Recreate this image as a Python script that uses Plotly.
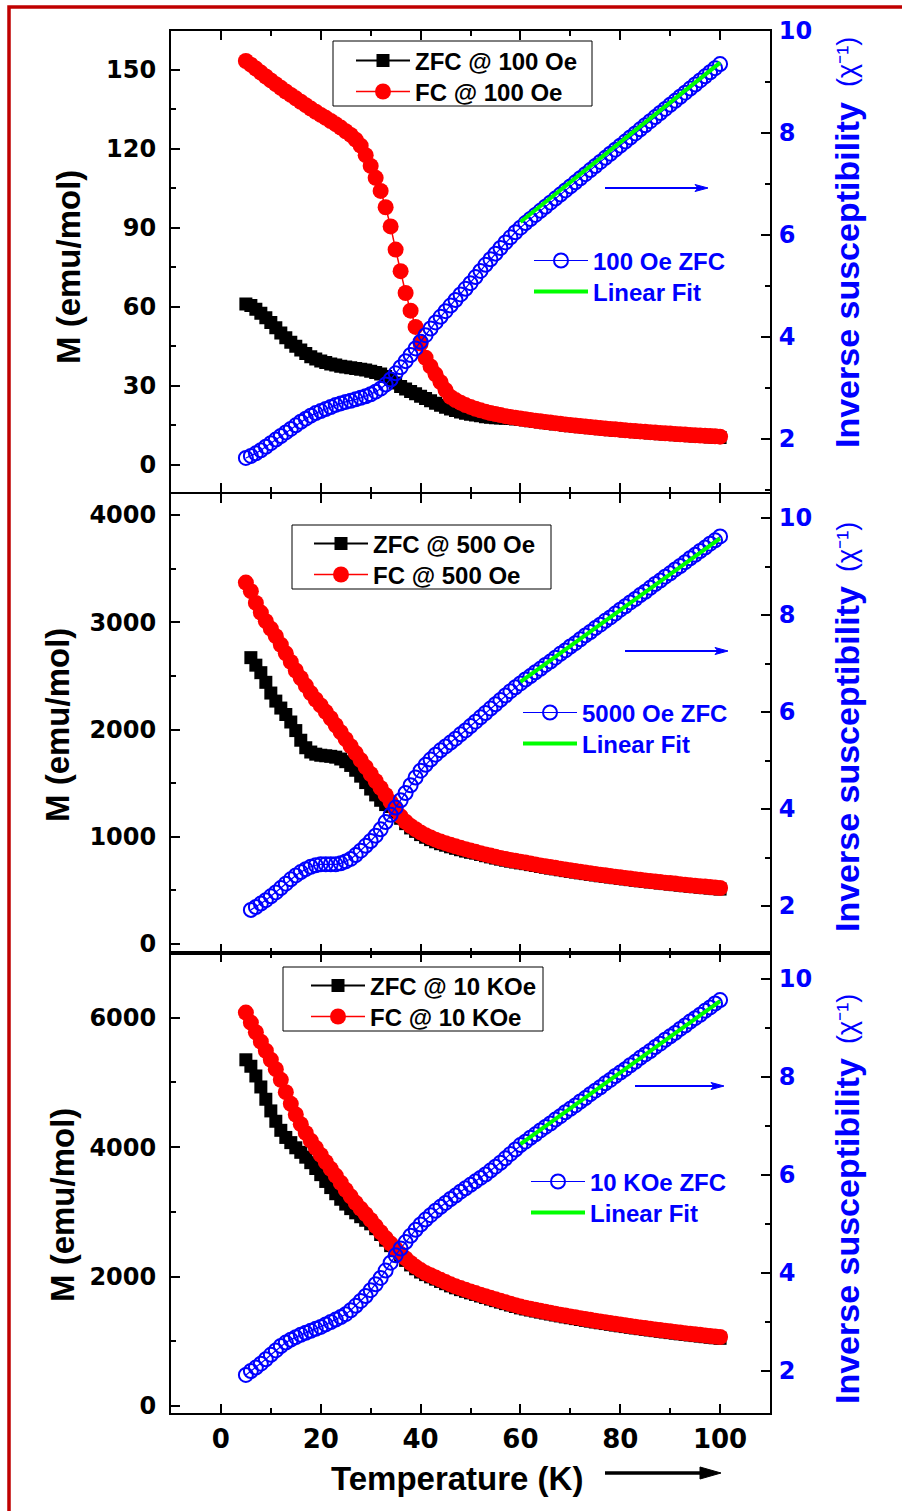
import plotly.graph_objects as go

W, H = 902, 1511
FONT = "Liberation Sans, Arial, Helvetica, sans-serif"
TICKFONT = "DejaVu Sans, Liberation Sans, sans-serif"
BLUE = "#0000FF"
RED = "#FF0000"
GREEN = "#00FF00"

# ---------------- data ----------------
T_all = list(range(5, 101))      # 5 ... 100 K
T_from6 = list(range(6, 101))    # 6 ... 100 K
fit_T = [60, 100]

x_ticks = [0, 20, 40, 60, 80, 100]
right_ticks = [2, 4, 6, 8, 10]

# Panel 1 : 100 Oe
zfc_100 = [61.0, 60.5, 59.0, 57.5, 55.8, 54.0, 52.0, 50.0, 48.2, 46.5,
           45.0, 43.5, 42.2, 41.0, 40.1, 39.4, 38.8, 38.2, 37.8, 37.4,
           37.1, 36.8, 36.5, 36.2, 35.9, 35.5, 35.0, 34.4, 33.5, 32.3,
           31.0, 29.7, 28.7, 27.8, 26.9, 26.0, 25.1, 24.2, 23.3, 22.5,
           21.8, 21.1, 20.5, 20.0, 19.5, 19.1, 18.8, 18.5, 18.2, 18.0,
           17.8, 17.7, 17.6, 17.5, 17.35, 17.2, 16.92, 16.65, 16.39, 16.13,
           15.88, 15.64, 15.41, 15.18, 14.96, 14.75, 14.54, 14.34, 14.14, 13.95,
           13.77, 13.59, 13.41, 13.24, 13.07, 12.90, 12.74, 12.59, 12.43, 12.29,
           12.14, 12.00, 11.86, 11.72, 11.59, 11.46, 11.33, 11.21, 11.09, 10.97,
           10.85, 10.74, 10.62, 10.51, 10.41, 10.30]
fc_100 = [153.4, 152.0, 150.5, 149.0, 147.5, 146.0, 144.6, 143.2, 141.8, 140.5,
          139.2, 137.9, 136.6, 135.3, 134.1, 132.9, 131.8, 130.6, 129.4, 128.1,
          126.7, 125.3, 123.5, 121.2, 117.6, 113.5, 109.0, 104.0, 97.8, 90.5,
          81.7, 73.5, 65.2, 58.5, 52.3, 46.0, 40.6, 37.3, 34.3, 31.3,
          28.3, 25.7, 24.5, 23.5, 22.6, 21.9, 21.2, 20.6, 20.1, 19.6,
          19.2, 18.8, 18.4, 18.1, 17.8, 17.5, 17.22, 16.95, 16.69, 16.43,
          16.18, 15.94, 15.71, 15.48, 15.26, 15.05, 14.84, 14.64, 14.44, 14.25,
          14.07, 13.89, 13.71, 13.54, 13.37, 13.20, 13.04, 12.89, 12.73, 12.59,
          12.44, 12.30, 12.16, 12.02, 11.89, 11.76, 11.63, 11.51, 11.39, 11.27,
          11.15, 11.04, 10.92, 10.81, 10.71, 10.60]
chi_100 = [1.62, 1.66, 1.71, 1.77, 1.84, 1.91, 1.98, 2.05, 2.12, 2.19,
           2.26, 2.33, 2.39, 2.45, 2.50, 2.54, 2.58, 2.62, 2.66, 2.69,
           2.72, 2.74, 2.77, 2.80, 2.83, 2.87, 2.92, 2.98, 3.06, 3.16,
           3.28, 3.40, 3.52, 3.64, 3.77, 3.90, 4.03, 4.16, 4.28, 4.39,
           4.50, 4.61, 4.72, 4.83, 4.94, 5.05, 5.17, 5.29, 5.41, 5.52,
           5.63, 5.74, 5.85, 5.95, 6.05, 6.14, 6.23, 6.31, 6.39, 6.47,
           6.55, 6.63, 6.71, 6.79, 6.87, 6.95, 7.03, 7.11, 7.19, 7.27,
           7.35, 7.43, 7.51, 7.59, 7.67, 7.75, 7.83, 7.91, 7.99, 8.07,
           8.15, 8.23, 8.31, 8.39, 8.47, 8.55, 8.63, 8.71, 8.79, 8.87,
           8.95, 9.03, 9.11, 9.19, 9.27, 9.35]
fit_100 = [6.25, 9.38]

# Panel 2 : 500 Oe
zfc_500 = [2670, 2600, 2530, 2440, 2340, 2265, 2200, 2140, 2070,
           1990, 1900, 1830, 1790, 1770, 1760, 1755, 1750, 1742, 1725,
           1700, 1665, 1620, 1565, 1505, 1445, 1390, 1340, 1300, 1282,
           1230, 1172, 1122, 1082, 1050, 1020, 995, 973, 953, 935,
           921, 906, 892, 879, 866, 855, 847, 835, 823, 812,
           801, 791, 781, 772, 764, 756, 749, 740, 732, 723,
           715, 707, 700, 692, 684, 677, 670, 663, 656, 649,
           643, 636, 630, 624, 618, 612, 606, 600, 594, 589,
           583, 578, 573, 568, 563, 558, 553, 548, 543, 538,
           534, 529, 525, 521, 516, 512]
fc_500 = [3370, 3290, 3180, 3090, 3010, 2940, 2870, 2790, 2710, 2630,
          2550, 2480, 2410, 2340, 2280, 2225, 2165, 2105, 2040, 1975,
          1910, 1845, 1780, 1715, 1650, 1585, 1520, 1455, 1390, 1325,
          1255, 1190, 1140, 1100, 1070, 1040, 1015, 993, 973, 955,
          940, 925, 911, 897, 884, 871, 859, 847, 835, 824,
          813, 803, 793, 784, 776, 768, 759, 750, 742, 733,
          725, 717, 710, 702, 694, 687, 680, 673, 666, 659,
          653, 646, 640, 634, 628, 622, 616, 610, 604, 599,
          593, 588, 583, 578, 572, 568, 563, 558, 553, 548,
          544, 539, 535, 531, 526, 522]
chi_500 = [1.92, 1.98, 2.05, 2.12, 2.20, 2.28, 2.37, 2.46, 2.55,
           2.63, 2.70, 2.76, 2.81, 2.84, 2.86, 2.86, 2.86, 2.86, 2.88,
           2.92, 2.97, 3.05, 3.14, 3.24, 3.34, 3.45, 3.58, 3.73, 3.88,
           4.03, 4.18, 4.33, 4.49, 4.65, 4.79, 4.91, 5.02, 5.12, 5.21,
           5.29, 5.37, 5.45, 5.54, 5.62, 5.71, 5.80, 5.89, 5.98, 6.07,
           6.16, 6.25, 6.34, 6.43, 6.51, 6.59, 6.67, 6.74, 6.82, 6.89,
           6.97, 7.04, 7.12, 7.20, 7.27, 7.35, 7.42, 7.50, 7.58, 7.65,
           7.73, 7.80, 7.88, 7.95, 8.03, 8.11, 8.18, 8.26, 8.33, 8.41,
           8.48, 8.56, 8.64, 8.71, 8.79, 8.86, 8.94, 9.01, 9.09, 9.17,
           9.24, 9.32, 9.39, 9.47, 9.54, 9.62]
fit_500 = [6.62, 9.58]

# Panel 3 : 10 KOe
zfc_10k = [5350, 5250, 5100, 4930, 4740, 4560, 4400, 4260, 4150, 4070,
           3990, 3920, 3845, 3760, 3670, 3575, 3470, 3375, 3280, 3195,
           3120, 3050, 2985, 2925, 2870, 2815, 2740, 2650, 2562, 2478,
           2400, 2320, 2250, 2180, 2120, 2070, 2030, 1995, 1960, 1925,
           1890, 1856, 1826, 1798, 1772, 1748, 1724, 1700, 1676, 1652,
           1628, 1605, 1582, 1560, 1538, 1516, 1499, 1483, 1467, 1451,
           1436, 1421, 1406, 1392, 1377, 1364, 1350, 1337, 1323, 1311,
           1298, 1286, 1274, 1262, 1250, 1239, 1227, 1216, 1205, 1195,
           1184, 1174, 1164, 1154, 1144, 1134, 1125, 1115, 1106, 1097,
           1088, 1080, 1071, 1062, 1054, 1046]
fc_10k = [6080, 5925, 5775, 5630, 5490, 5350, 5205, 5040, 4850, 4670,
          4505, 4355, 4220, 4100, 3990, 3880, 3770, 3665, 3560, 3450,
          3340, 3240, 3140, 3050, 2965, 2875, 2780, 2685, 2595, 2510,
          2430, 2350, 2280, 2210, 2150, 2100, 2055, 2020, 1985, 1950,
          1915, 1880, 1850, 1822, 1795, 1770, 1745, 1720, 1696, 1672,
          1648, 1625, 1602, 1580, 1558, 1536, 1519, 1503, 1487, 1471,
          1456, 1441, 1426, 1412, 1397, 1384, 1370, 1357, 1343, 1331,
          1318, 1306, 1294, 1282, 1270, 1259, 1247, 1236, 1225, 1215,
          1204, 1194, 1184, 1174, 1164, 1154, 1145, 1135, 1126, 1117,
          1108, 1100, 1091, 1083, 1074, 1066]
chi_10k = [1.92, 2.00, 2.07, 2.15, 2.24, 2.33, 2.42, 2.51, 2.58, 2.64,
           2.69, 2.74, 2.78, 2.82, 2.86, 2.90, 2.95, 3.00, 3.05, 3.10,
           3.16, 3.24, 3.33, 3.43, 3.53, 3.65, 3.77, 3.90, 4.05, 4.21,
           4.36, 4.50, 4.63, 4.76, 4.88, 4.99, 5.09, 5.18, 5.27, 5.35,
           5.43, 5.51, 5.58, 5.66, 5.73, 5.80, 5.87, 5.94, 6.01, 6.09,
           6.17, 6.25, 6.34, 6.43, 6.52, 6.61, 6.68, 6.76, 6.83, 6.91,
           6.98, 7.05, 7.13, 7.20, 7.28, 7.35, 7.42, 7.50, 7.57, 7.65,
           7.72, 7.79, 7.87, 7.94, 8.02, 8.09, 8.16, 8.24, 8.31, 8.39,
           8.46, 8.53, 8.61, 8.68, 8.76, 8.83, 8.90, 8.98, 9.05, 9.13,
           9.20, 9.27, 9.35, 9.42, 9.50, 9.57]
fit_10k = [6.63, 9.55]

panels = [
    dict(zfc_T=T_all, zfc=zfc_100, fc_T=T_all, fc=fc_100, chi_T=T_all, chi=chi_100, fit=fit_100,
         zfc_name="ZFC @ 100 Oe", fc_name="FC @ 100 Oe", chi_name="100 Oe ZFC",
         left_range=[-10.25, 164.8], left_dtick=30, left_minor=15,
         right_range=[0.961, 10.0], top=31, bottom=491.5),
    dict(zfc_T=T_from6, zfc=zfc_500, fc_T=T_all, fc=fc_500, chi_T=T_from6, chi=chi_500, fit=fit_500,
         zfc_name="ZFC @ 500 Oe", fc_name="FC @ 500 Oe", chi_name="5000 Oe ZFC",
         left_range=[-84, 4196], left_dtick=1000, left_minor=500,
         right_range=[1.031, 10.495], top=494, bottom=953),
    dict(zfc_T=T_all, zfc=zfc_10k, fc_T=T_all, fc=fc_10k, chi_T=T_all, chi=chi_10k, fit=fit_10k,
         zfc_name="ZFC @ 10 KOe", fc_name="FC @ 10 KOe", chi_name="10 KOe ZFC",
         left_range=[-108, 7000], left_dtick=2000, left_minor=1000,
         right_range=[1.143, 10.53], top=953, bottom=1413),
]

# ---------------- layout helpers (pixel -> paper) ----------------
def PX(p):
    return p / W

def PY(p):
    return 1 - p / H

X_DOM = [PX(171), PX(770)]
LEG_OFF = 22.6   # legend top -> row centre (px)

# legend rows: (left x, row centre y) for zfc, fc, chi, fit
legend_rows = [[(351, 61), (351, 92), (529, 261), (529, 292)],
               [(309, 544), (309, 575), (518, 713), (518, 744)],
               [(306, 986), (306, 1017), (526, 1182), (526, 1213)]]
legend_boxes = [(333, 41, 592, 106), (292, 525, 551, 589), (283, 967, 543, 1031)]
blue_arrows = [(605, 708, 188), (625, 728, 651), (635, 724, 1086)]
left_title_pos = [(68, 267), (57, 725), (62, 1205)]
# right title: (x, centre of bold part, centre of "(χ⁻¹)" part)
right_title_pos = [(847, 275, 62), (847, 759, 547), (847, 1231, 1019)]

fig = go.Figure()
layout = dict(
    width=W, height=H,
    margin=dict(l=0, r=0, t=0, b=0, autoexpand=False),
    paper_bgcolor="white", plot_bgcolor="white",
    font=dict(family=FONT, color="black"),
    showlegend=True,
)

axis_common = dict(showgrid=False, zeroline=False, showline=True, linecolor="black",
                   linewidth=2, ticks="inside", ticklen=9, tickwidth=2, tickcolor="black")

annotations = []
shapes = []
leg_idx = 0

def new_legend(x, yc, color):
    global leg_idx
    leg_idx += 1
    key = "legend" if leg_idx == 1 else f"legend{leg_idx}"
    layout[key] = dict(x=PX(x), y=PY(yc - LEG_OFF), xanchor="left", yanchor="top",
                       bgcolor="rgba(0,0,0,0)", borderwidth=0, itemwidth=54,
                       tracegroupgap=0,
                       font=dict(family=FONT, size=24, color=color, weight="bold"))
    return key

for i, p in enumerate(panels):
    n = i + 1
    xname = "x" if n == 1 else f"x{n}"
    yl = "y" if n == 1 else f"y{2 * n - 1}"
    yr = f"y{2 * n}"
    rows = legend_rows[i]

    fig.add_trace(go.Scatter(
        x=p["zfc_T"], y=p["zfc"], name=p["zfc_name"], mode="lines+markers",
        xaxis=xname, yaxis=yl, legend=new_legend(*rows[0], "black"),
        line=dict(color="black", width=2),
        marker=dict(symbol="square", size=13, color="black", line=dict(width=0))))
    fig.add_trace(go.Scatter(
        x=p["fc_T"], y=p["fc"], name=p["fc_name"], mode="lines+markers",
        xaxis=xname, yaxis=yl, legend=new_legend(*rows[1], "black"),
        line=dict(color=RED, width=1.5),
        marker=dict(symbol="circle", size=16, color=RED, line=dict(width=0))))
    fig.add_trace(go.Scatter(
        x=p["chi_T"], y=p["chi"], name=p["chi_name"], mode="lines+markers",
        xaxis=xname, yaxis=yr, legend=new_legend(*rows[2], BLUE),
        line=dict(color=BLUE, width=1.2),
        marker=dict(symbol="circle-open", size=14, color=BLUE, line=dict(width=2, color=BLUE))))
    fig.add_trace(go.Scatter(
        x=fit_T, y=p["fit"], name="Linear Fit", mode="lines",
        xaxis=xname, yaxis=yr, legend=new_legend(*rows[3], BLUE),
        line=dict(color=GREEN, width=4)))

    y_dom = [PY(p["bottom"]), PY(p["top"])]
    xkey = "xaxis" if n == 1 else f"xaxis{n}"
    ylkey = "yaxis" if n == 1 else f"yaxis{2 * n - 1}"
    yrkey = f"yaxis{2 * n}"

    layout[xkey] = dict(axis_common, domain=X_DOM, anchor=yl, range=[-10, 110],
                        tickvals=x_ticks, showticklabels=(n == 3), mirror="ticks",
                        minor=dict(dtick=10, tick0=0, ticks="inside", ticklen=5, tickwidth=2, tickcolor="black"),
                        tickfont=dict(family=TICKFONT, size=26, color="black", weight="bold"),
                        ticklabelstandoff=2)
    layout[ylkey] = dict(axis_common, domain=y_dom, anchor=xname, range=p["left_range"],
                         dtick=p["left_dtick"], tick0=0,
                         minor=dict(dtick=p["left_minor"], tick0=0, ticks="inside", ticklen=5, tickwidth=2, tickcolor="black"),
                         tickfont=dict(family=TICKFONT, size=24, color="black", weight="bold"),
                         ticklabelstandoff=8)
    layout[yrkey] = dict(axis_common, overlaying=yl, anchor=xname, side="right", range=p["right_range"],
                         tickvals=right_ticks,
                         minor=dict(dtick=1, tick0=0, ticks="inside", ticklen=5, tickwidth=2, tickcolor="black"),
                         tickfont=dict(family=TICKFONT, size=24, color=BLUE, weight="bold"),
                         ticklabelstandoff=2)

    x0, y0, x1, y1 = legend_boxes[i]
    shapes.append(dict(type="rect", xref="paper", yref="paper", x0=PX(x0), x1=PX(x1),
                       y0=PY(y1), y1=PY(y0), line=dict(color="black", width=1),
                       fillcolor="white", layer="above"))

    ax0, ax1, ay = blue_arrows[i]
    shapes.append(dict(type="line", xref="paper", yref="paper", x0=PX(ax0), x1=PX(ax1 - 8),
                       y0=PY(ay), y1=PY(ay), line=dict(color=BLUE, width=2), layer="above"))
    shapes.append(dict(type="path", xref="paper", yref="paper", layer="above",
                       path=f"M{PX(ax1 - 13)},{PY(ay - 3.5)} L{PX(ax1)},{PY(ay)} "
                            f"L{PX(ax1 - 13)},{PY(ay + 3.5)} L{PX(ax1 - 10)},{PY(ay)} Z",
                       fillcolor=BLUE, line=dict(color=BLUE, width=1)))

    lx, ly = left_title_pos[i]
    annotations.append(dict(text="M (emu/mol)", xref="paper", yref="paper", x=PX(lx), y=PY(ly),
                            xanchor="center", yanchor="middle", textangle=-90, showarrow=False,
                            font=dict(family=FONT, size=33, color="black", weight="bold")))
    rx, ry_bold, ry_sym = right_title_pos[i]
    annotations.append(dict(text="Inverse susceptibility",
                            xref="paper", yref="paper", x=PX(rx), y=PY(ry_bold),
                            xanchor="center", yanchor="middle", textangle=-90, showarrow=False,
                            font=dict(family=FONT, size=34, color=BLUE, weight="bold")))
    annotations.append(dict(text="(χ⁻¹)",
                            xref="paper", yref="paper", x=PX(rx), y=PY(ry_sym),
                            xanchor="center", yanchor="middle", textangle=-90, showarrow=False,
                            font=dict(family=FONT, size=27, color=BLUE, weight="normal")))

# x-axis title and arrow
annotations.append(dict(text="Temperature (K)", xref="paper", yref="paper", x=PX(457), y=PY(1478),
                        xanchor="center", yanchor="middle", showarrow=False,
                        font=dict(family=FONT, size=33, color="black", weight="bold")))
shapes.append(dict(type="line", xref="paper", yref="paper", x0=PX(605), x1=PX(705),
                   y0=PY(1473), y1=PY(1473), line=dict(color="black", width=3.5), layer="above"))
shapes.append(dict(type="path", xref="paper", yref="paper", layer="above",
                   path=f"M{PX(700)},{PY(1467)} L{PX(721)},{PY(1473)} L{PX(700)},{PY(1479)} Z",
                   fillcolor="black", line=dict(color="black", width=1)))

# outer red frame
shapes.append(dict(type="rect", xref="paper", yref="paper", x0=PX(9), x1=1.05,
                   y0=-0.05, y1=PY(7), line=dict(color="#C00000", width=3.5), layer="below"))

layout["annotations"] = annotations
layout["shapes"] = shapes
fig.update_layout(**layout)

fig.write_html("out.html")
